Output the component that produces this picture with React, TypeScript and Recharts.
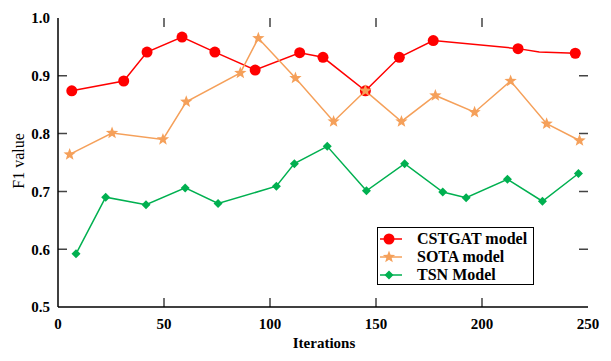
import React from "react";
import { LineChart, Line, XAxis, YAxis, Legend, ReferenceLine } from "recharts";

// values
const cstgatIter = [6.5, 31, 42, 58.5, 74, 93, 114, 125, 145, 161, 177, 217, 227, 244];
const cstgatF1 = [0.874, 0.891, 0.941, 0.967, 0.941, 0.91, 0.94, 0.932, 0.874, 0.932, 0.961, 0.947, 0.941, 0.939];
const cstgatMarked = [1, 1, 1, 1, 1, 1, 1, 1, 1, 1, 1, 1, 0, 1];

const sotaIter = [5.5, 25.5, 49.5, 60.5, 86, 94.5, 112, 130, 145, 162, 178, 196.5, 213.5, 230.5, 246];
const sotaF1 = [0.764, 0.801, 0.79, 0.855, 0.905, 0.965, 0.896, 0.821, 0.874, 0.821, 0.866, 0.837, 0.891, 0.817, 0.788];

const tsnIter = [8.5, 22.5, 41.5, 60, 75.5, 103, 111.5, 127, 145.5, 163.5, 181.5, 192.5, 212, 228.5, 245.5];
const tsnF1 = [0.592, 0.69, 0.677, 0.706, 0.679, 0.709, 0.748, 0.778, 0.701, 0.748, 0.699, 0.689, 0.721, 0.683, 0.731];

const xTicks = [0, 50, 100, 150, 200, 250];
const yTicks = [0.5, 0.6, 0.7, 0.8, 0.9, 1.0];
const X_DOMAIN = [0, 250];
const Y_DOMAIN = [0.5, 1.0];

const RED = "#ff0000";
const ORANGE = "#f5a05a";
const GREEN = "#00b050";
const FONT = "'Liberation Serif', 'Times New Roman', serif";
const TICK_COLOR = "#444";
const TICK_LEN = 9;

const toRows = (xs: number[], ys: number[]) => xs.map((x, i) => ({ x, y: ys[i] }));
const cstgatData = toRows(cstgatIter, cstgatF1);
const sotaData = toRows(sotaIter, sotaF1);
const tsnData = toRows(tsnIter, tsnF1);

function starPath(cx: number, cy: number, ro: number, ri: number) {
  let d = "";
  for (let i = 0; i < 10; i++) {
    const r = i % 2 === 0 ? ro : ri;
    const a = -Math.PI / 2 + (i * Math.PI) / 5;
    d += (i === 0 ? "M" : "L") + (cx + r * Math.cos(a)).toFixed(2) + "," + (cy + r * Math.sin(a)).toFixed(2);
  }
  return d + "Z";
}

const Circle = ({ cx, cy, r = 5.5 }: any) => <circle cx={cx} cy={cy} r={r} fill={RED} />;
const Star = ({ cx, cy, r = 6.5 }: any) => <path d={starPath(cx, cy, r, r * 0.42)} fill={ORANGE} />;
const Diamond = ({ cx, cy, r = 4.5 }: any) => (
  <path d={`M${cx},${cy - r}L${cx + r},${cy}L${cx},${cy + r}L${cx - r},${cy}Z`} fill={GREEN} />
);

const redDot = (p: any) =>
  cstgatMarked[p.index] ? <Circle key={`c-${p.index}`} cx={p.cx} cy={p.cy} /> : <g key={`c-${p.index}`} />;
const orangeDot = (p: any) => <Star key={`s-${p.index}`} cx={p.cx} cy={p.cy} />;
const greenDot = (p: any) => <Diamond key={`d-${p.index}`} cx={p.cx} cy={p.cy} />;

const legendItems = [
  { name: "CSTGAT model", color: RED, Marker: Circle },
  { name: "SOTA model", color: ORANGE, Marker: Star },
  { name: "TSN Model", color: GREEN, Marker: Diamond },
];

const LegendBox = () => (
  <div
    style={{
      border: "1.5px solid #000",
      background: "#fff",
      width: 157,
      height: 58,
      boxSizing: "border-box",
      padding: "2px 0 0 1px",
      fontFamily: FONT,
      fontWeight: "bold",
      fontSize: 16,
      lineHeight: "18px",
    }}
  >
    {legendItems.map(({ name, color, Marker }) => (
      <div key={name} style={{ display: "flex", alignItems: "center", height: 18 }}>
        <svg width={24} height={14} style={{ marginRight: 14 }}>
          <line x1={1} y1={7} x2={23} y2={7} stroke={color} strokeWidth={1.5} />
          <Marker cx={10} cy={7} />
        </svg>
        <span style={{ color: "#000" }}>{name}</span>
      </div>
    ))}
  </div>
);

const YTitle = () => (
  <text
    x={18}
    y={161}
    transform="rotate(-90 18 161)"
    textAnchor="middle"
    dominantBaseline="central"
    fontFamily={FONT}
    fontSize={16}
    fill="#000"
  >
    F1 value
  </text>
);

const XTitle = () => (
  <text x={324} y={343} textAnchor="middle" dominantBaseline="central" fontFamily={FONT} fontSize={15} fontWeight="bold" fill="#000">
    Iterations
  </text>
);

// a reference line drawn only as two short inward stubs at its ends
const StubShape = (p: any) => {
  const x1 = Number(p.x1), y1 = Number(p.y1), x2 = Number(p.x2), y2 = Number(p.y2);
  const len = Math.hypot(x2 - x1, y2 - y1) || 1;
  const ux = ((x2 - x1) / len) * TICK_LEN;
  const uy = ((y2 - y1) / len) * TICK_LEN;
  return (
    <path
      d={`M${x1},${y1}L${x1 + ux},${y1 + uy}M${x2},${y2}L${x2 - ux},${y2 - uy}`}
      stroke={TICK_COLOR}
      strokeWidth={1.5}
      fill="none"
    />
  );
};

const tickStyle = { fontFamily: FONT, fontSize: 15, fontWeight: "bold", fill: "#000" };
const axisLine = { stroke: "#000", strokeWidth: 1.5 };

export default function App() {
  const innerX = xTicks.filter((t) => t > X_DOMAIN[0] && t < X_DOMAIN[1]);
  const innerY = yTicks.filter((t) => t > Y_DOMAIN[0] && t < Y_DOMAIN[1]);
  return (
    <div style={{ position: "absolute", left: 0, top: 0, width: 611, height: 361, background: "#fff" }}>
      <LineChart width={611} height={361} margin={{ top: 18, right: 23, bottom: 0, left: 0 }}>
        <XAxis
          dataKey="x"
          type="number"
          domain={X_DOMAIN}
          ticks={xTicks}
          height={54}
          tick={tickStyle}
          tickSize={0}
          tickMargin={11}
          axisLine={axisLine}
          tickLine={false}
          label={<XTitle />}
        />
        <XAxis
          xAxisId="top"
          orientation="top"
          type="number"
          domain={X_DOMAIN}
          ticks={xTicks}
          height={0}
          tick={false}
          axisLine={axisLine}
          tickLine={false}
        />
        <YAxis
          dataKey="y"
          type="number"
          domain={Y_DOMAIN}
          ticks={yTicks}
          width={58}
          tick={tickStyle}
          tickFormatter={(v: number) => v.toFixed(1)}
          tickSize={0}
          tickMargin={8}
          axisLine={axisLine}
          tickLine={false}
          label={<YTitle />}
        />
        <YAxis
          yAxisId="right"
          orientation="right"
          type="number"
          domain={Y_DOMAIN}
          ticks={yTicks}
          width={0}
          tick={false}
          axisLine={axisLine}
          tickLine={false}
        />
        {innerX.map((t) => (
          <ReferenceLine key={`vx-${t}`} x={t} shape={<StubShape />} ifOverflow="visible" />
        ))}
        {innerY.map((t) => (
          <ReferenceLine key={`hy-${t}`} y={t} shape={<StubShape />} ifOverflow="visible" />
        ))}
        <Legend
          layout="horizontal"
          align="center"
          verticalAlign="middle"
          content={<LegendBox />}
          wrapperStyle={{ position: "absolute", left: 377, top: 227, width: 157, height: 58 }}
        />
        <Line
          data={cstgatData}
          dataKey="y"
          name="CSTGAT model"
          type="linear"
          stroke={RED}
          strokeWidth={1.5}
          dot={redDot}
          activeDot={false}
          isAnimationActive={false}
        />
        <Line
          data={sotaData}
          dataKey="y"
          name="SOTA model"
          type="linear"
          stroke={ORANGE}
          strokeWidth={1.5}
          dot={orangeDot}
          activeDot={false}
          isAnimationActive={false}
        />
        <Line
          data={tsnData}
          dataKey="y"
          name="TSN Model"
          type="linear"
          stroke={GREEN}
          strokeWidth={1.5}
          dot={greenDot}
          activeDot={false}
          isAnimationActive={false}
        />
      </LineChart>
    </div>
  );
}
